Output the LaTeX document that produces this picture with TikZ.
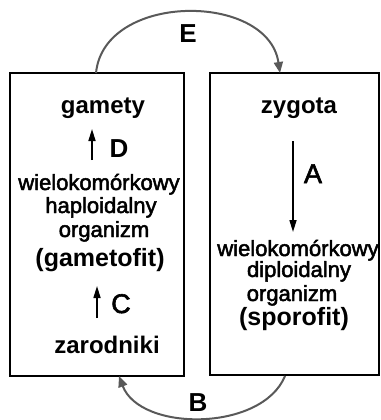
\documentclass[tikz,border=0pt]{standalone}
\usepackage{fontspec}
\setmainfont{Liberation Sans}
% a slightly heavier cut for the descriptive lines
\newfontfamily\medfont[BoldFont={Liberation Sans}, BoldFeatures={FakeBold=2.2}]{Liberation Sans}
\usetikzlibrary{arrows.meta}
\tikzset{
  box/.style={draw=black, line width=2pt, fill=white, inner sep=0pt},
  plain/.style={anchor=base, inner sep=0pt, font=\fontsize{22}{26}\medfont\bfseries},
  heavy/.style={anchor=base, inner sep=0pt, font=\fontsize{24}{28}\selectfont\bfseries},
  paren/.style={anchor=base, inner sep=0pt, font=\fontsize{25}{30}\selectfont\bfseries},
  letter/.style={anchor=base, inner sep=0pt, font=\fontsize{26}{30}\selectfont\bfseries},
  medletter/.style={anchor=base, inner sep=0pt, font=\fontsize{27}{30}\medfont\bfseries},
  stepline/.style={draw=black, line width=1.6pt, -{Triangle[length=12pt,width=7pt]}},
  cycle arc/.style={draw=black!65, line width=2pt, -{Triangle[length=11pt,width=9pt]}}
}
\begin{document}
\begin{tikzpicture}[x=1pt, y=-1pt]
  \useasboundingbox (0,0) rectangle (380,420);

  % the two boxes of the life cycle
  \node[box, minimum width=174pt, minimum height=303pt] (hap) at (97,224.5) {};
  \node[box, minimum width=169pt, minimum height=302pt] (dip) at (294.5,224) {};

  % haploid side
  \node[heavy] (gam) at (103,113) {gamety};
  \node[plain] (w1) at (99,190) {wielokomórkowy};
  \node[plain] (h1) at (101,213) {haploidalny};
  \node[plain] (o1) at (104,237) {organizm};
  \node[paren] (gf) at (100,266) {(gametofit)};
  \node[heavy] (zar) at (107,353) {zarodniki};

  \coordinate (dlow) at (92,160);
  \coordinate (dtop) at (92,129);
  \draw[stepline] (dlow) -- (dtop);
  \node[letter] (lD) at (119,157) {D};

  \coordinate (clow) at (97,318);
  \coordinate (ctop) at (97,286);
  \draw[stepline] (clow) -- (ctop);
  \node[medletter] (lC) at (121,313) {C};

  % diploid side
  \node[heavy] (zyg) at (299,113) {zygota};
  \node[plain] (w2) at (298,256) {wielokomórkowy};
  \node[plain] (d2) at (299,277) {diploidalny};
  \node[plain] (o2) at (292,301) {organizm};
  \node[paren] (sf) at (294,325) {(sporofit)};

  \coordinate (atop) at (293,141);
  \coordinate (alow) at (293,232);
  \draw[stepline] (atop) -- (alow);
  \node[medletter] (lA) at (313,183) {A};

  % arcs joining the two generations
  \coordinate (etail) at (96,73);
  \coordinate (ehead) at (280,73);
  \draw[cycle arc] (etail) .. controls (104,-8) and (268,-8) .. (ehead);
  \node[letter] (lE) at (188,42) {E};

  \coordinate (btail) at (285,376);
  \coordinate (bhead) at (119,376);
  \draw[cycle arc] (btail) .. controls (262,432) and (140,432) .. (bhead);
  \node[letter] (lB) at (198,411) {B};
\end{tikzpicture}
\end{document}
